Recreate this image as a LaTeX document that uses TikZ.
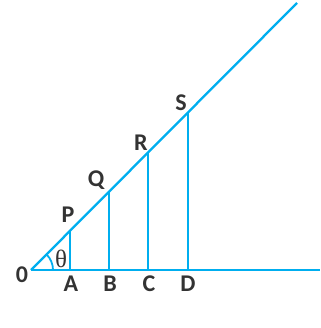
\documentclass[tikz,border=0pt]{standalone}
\usepackage{fontspec}
\setmainfont{Carlito}
\newfontfamily\thfont{Liberation Serif}
\definecolor{lineblue}{RGB}{0,174,239}
\definecolor{txt}{RGB}{51,51,51}
\begin{document}
\begin{tikzpicture}[x=1pt,y=1pt,
  ln/.style={draw=lineblue,line width=2.3pt},
  lab/.style={text=txt,font=\bfseries\fontsize{24}{24}\selectfont,inner sep=0pt}]
\useasboundingbox (0,0) rectangle (320,328);
\coordinate (O) at (31,58);
\coordinate (E) at (320,58);
\coordinate (T) at (297,325);
\coordinate (A) at (70,58);
\coordinate (B) at (109,58);
\coordinate (C) at (148,58);
\coordinate (D) at (188,58);
\coordinate (P) at (70,97);
\coordinate (Q) at (109,136);
\coordinate (R) at (148,175);
\coordinate (S) at (188,215);
\draw[ln] (O) -- (E);
\draw[ln] (O) -- (T);
\draw[ln] (A) -- (P);
\draw[ln] (B) -- (Q);
\draw[ln] (C) -- (R);
\draw[ln] (D) -- (S);
\draw[ln,line width=1.8pt] ([xshift=22pt]O) arc (0:45:22);
\node[lab] (lO) at (22,53) {0};
\node[lab] (lA) at (71,44) {A};
\node[lab] (lB) at (110,44) {B};
\node[lab] (lC) at (149,44) {C};
\node[lab] (lD) at (188,44) {D};
\node[lab] (lP) at (68,113) {P};
\node[lab] (lQ) at (96,148) {Q};
\node[lab] (lR) at (141,185) {R};
\node[lab] (lS) at (181,225) {S};
\node[text=txt,inner sep=0pt,font=\thfont\fontsize{25}{25}\selectfont] (th) at (61,69) {θ};
\end{tikzpicture}
\end{document}
